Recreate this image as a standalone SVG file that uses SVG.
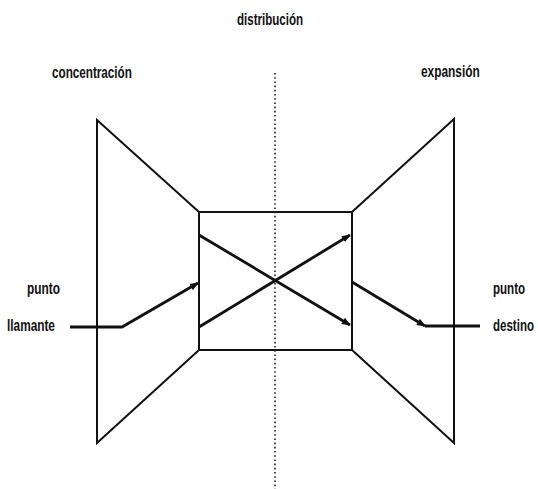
<svg xmlns="http://www.w3.org/2000/svg" width="538" height="489" viewBox="0 0 538 489">
<defs>
<style>
.lbl{font-family:"Liberation Sans",Arial,sans-serif;font-weight:bold;font-size:17px;fill:#111}
.frame{fill:none;stroke:#111;stroke-width:2;stroke-linejoin:miter}
.flow{fill:none;stroke:#111;stroke-width:2.8}
.dot{fill:none;stroke:#222;stroke-width:1.6;stroke-dasharray:1.6,2.6}
</style>
<marker id="ah" viewBox="0 0 10 10" refX="9" refY="5" markerWidth="3.2" markerHeight="3.2" orient="auto" markerUnits="strokeWidth">
<path d="M0,1 L10,5 L0,9 Z" fill="#111"/>
</marker>
</defs>
<rect width="538" height="489" fill="#fff"/>
<g id="labels">
<text class="lbl" transform="translate(237,25) scale(0.68,1)">distribución</text>
<text class="lbl" transform="translate(52,78) scale(0.688,1)">concentración</text>
<text class="lbl" transform="translate(421,77) scale(0.70,1)">expansión</text>
<text class="lbl" transform="translate(27,294) scale(0.70,1)">punto</text>
<text class="lbl" transform="translate(7,331) scale(0.696,1)">llamante</text>
<text class="lbl" transform="translate(493,294) scale(0.68,1)">punto</text>
<text class="lbl" transform="translate(493,331) scale(0.678,1)">destino</text>
</g>
<g id="concentracion">
<path class="frame" d="M199,212 L97,120 L97,443 L199,350"/>
</g>
<g id="distribucion">
<rect class="frame" x="199" y="212" width="153" height="138"/>
</g>
<g id="expansion">
<path class="frame" d="M352,212 L454,119 L454,443 L352,350"/>
</g>
<g id="axis">
<line class="dot" x1="275" y1="73" x2="275" y2="489"/>
</g>
<g id="connectors">
<path class="flow" d="M70,327 L122,327 L198,283" marker-end="url(#ah)"/>
<path class="flow" d="M199,235 L350,325" marker-end="url(#ah)"/>
<path class="flow" d="M199,327 L350,235" marker-end="url(#ah)"/>
<path class="flow" d="M352,282 L425,326" marker-end="url(#ah)"/>
<path class="flow" d="M425,326 L480,326"/>
</g>
</svg>
